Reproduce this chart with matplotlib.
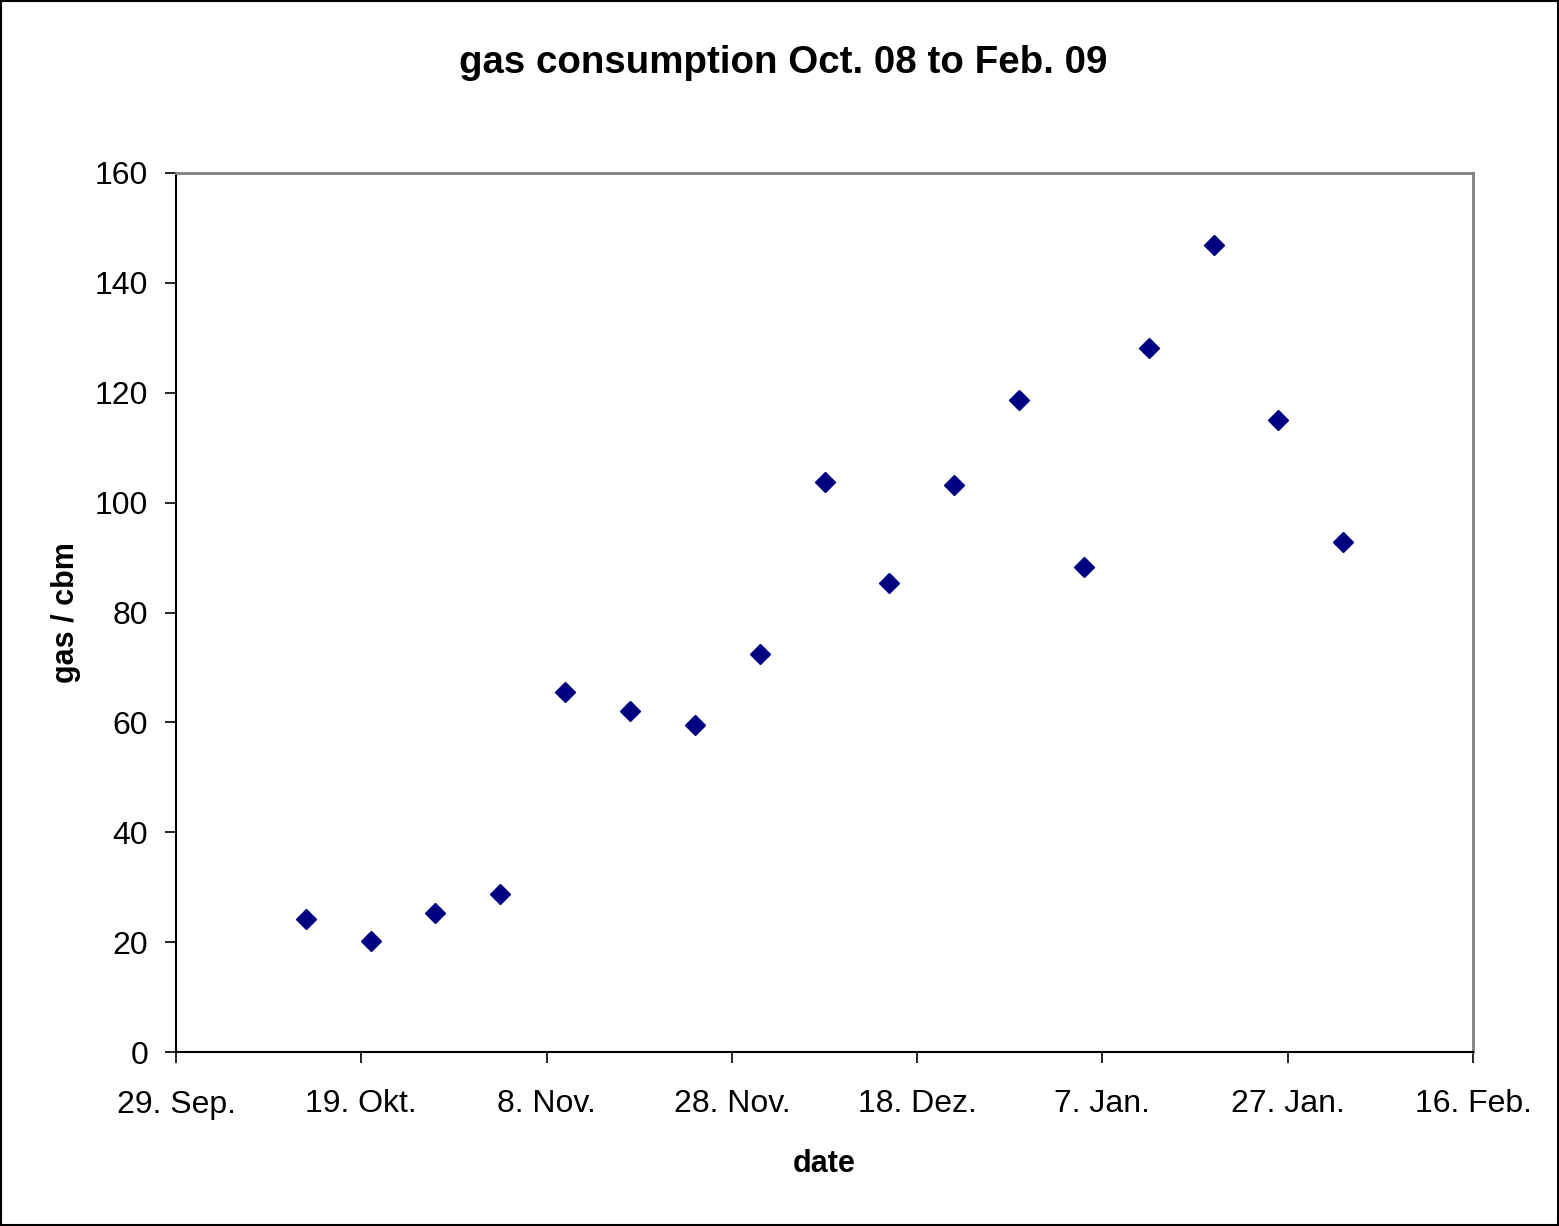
import matplotlib
matplotlib.use("Agg")
import matplotlib.pyplot as plt
import matplotlib.dates as mdates
import numpy as np
import datetime as dt

plt.rcParams['font.family'] = ['Liberation Sans', 'DejaVu Sans']

# Data
dates = ["2008-10-13", "2008-10-20", "2008-10-27", "2008-11-03", "2008-11-10",
         "2008-11-17", "2008-11-24", "2008-12-01", "2008-12-08", "2008-12-15",
         "2008-12-22", "2008-12-29", "2009-01-05", "2009-01-12", "2009-01-19",
         "2009-01-26", "2009-02-02"]
gas = [24.2, 20.2, 25.3, 28.8, 65.5, 62.1, 59.5, 72.4, 103.7, 85.4,
       103.2, 118.7, 88.3, 128.1, 146.9, 115.0, 92.8]
tick_dates = ["2008-09-29", "2008-10-19", "2008-11-08", "2008-11-28",
              "2008-12-18", "2009-01-07", "2009-01-27", "2009-02-16"]
tick_labels = ["29. Sep.", "19. Okt.", "8. Nov.", "28. Nov.",
               "18. Dez.", "7. Jan.", "27. Jan.", "16. Feb."]
y_ticks = [0, 20, 40, 60, 80, 100, 120, 140, 160]

x = [dt.datetime.strptime(d, "%Y-%m-%d") for d in dates]
xt = [dt.datetime.strptime(d, "%Y-%m-%d") for d in tick_dates]

fig = plt.figure(figsize=(15.59, 12.26), dpi=100)
ax = fig.add_axes([176/1559, 1 - 1052/1226, (1473-176)/1559, (1052-173)/1226])

ax.plot(x, gas, linestyle='none', marker='D', markersize=10.3,
        markerfacecolor='#000080', markeredgecolor='#000080', markeredgewidth=1)

ax.set_xlim(xt[0], xt[-1])
ax.set_ylim(0, 160)
ax.set_xticks(xt)
ax.set_xticklabels(tick_labels)
ax.set_yticks(y_ticks)
ax.tick_params(axis='both', labelsize=23, direction='out', length=8, width=1.2,
               color='black')
ax.tick_params(axis='y', pad=12)
ax.tick_params(axis='x', pad=19)

for s in ['top', 'right']:
    ax.spines[s].set_color('#808080')
    ax.spines[s].set_linewidth(2)
for s in ['left', 'bottom']:
    ax.spines[s].set_color('black')
    ax.spines[s].set_linewidth(1.5)

ax.set_xlabel('date', fontsize=22, fontweight='bold', labelpad=21)
ax.set_ylabel('gas / cbm', fontsize=22, fontweight='bold', labelpad=10)
fig.text(0.5025, 1 - 63/1226, 'gas consumption Oct. 08 to Feb. 09', fontsize=27.7,
         fontweight='bold', ha='center', va='center')

fig.patches.append(plt.Rectangle((0.0005, 0.0008), 0.999, 0.9985, transform=fig.transFigure,
                                 fill=False, edgecolor='black', linewidth=1.5))

fig.savefig('out.png', dpi=100)
